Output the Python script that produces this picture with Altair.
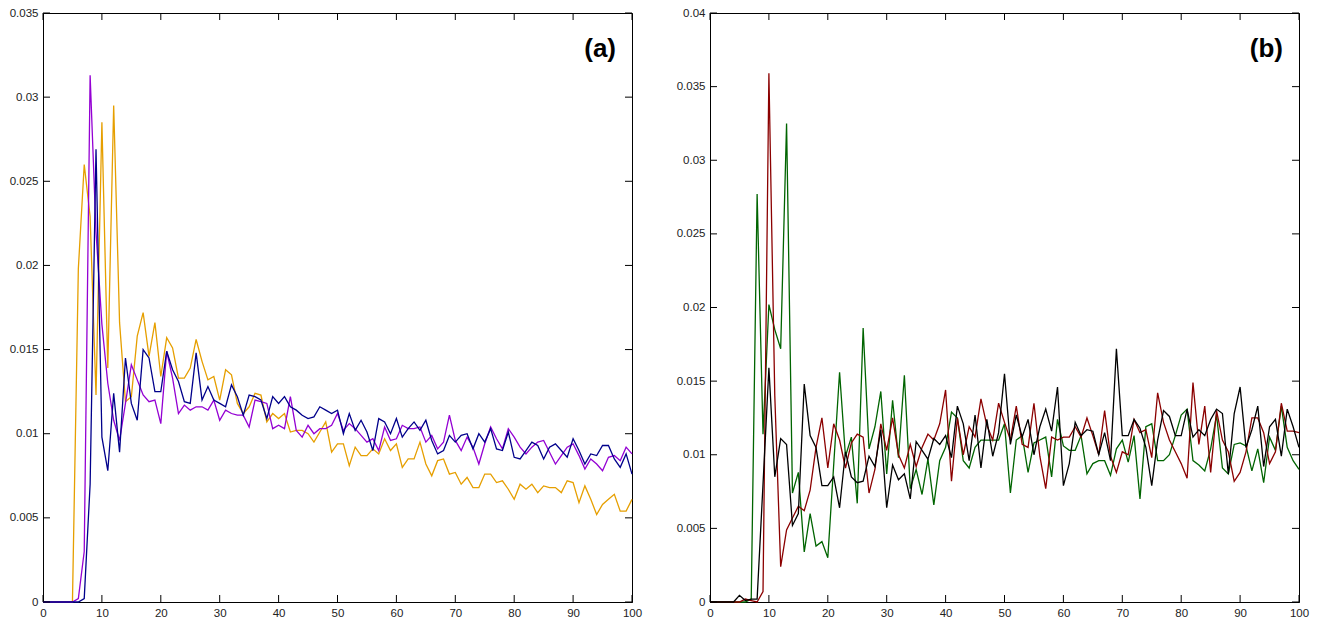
import altair as alt
import pandas as pd

# ---------------- data ----------------
x_vals = list(range(0, 101))

# panel (a)
a_orange = [0, 0, 0, 0, 0, 0, 0.0198, 0.0260, 0.0229, 0.0123,
            0.0285, 0.0139, 0.0295, 0.0166, 0.0119, 0.0122, 0.0158, 0.0172, 0.0146, 0.0166,
            0.0134, 0.0157, 0.0151, 0.0133, 0.0133, 0.0139, 0.0156, 0.0143, 0.0132, 0.0134,
            0.0120, 0.0138, 0.0135, 0.0118, 0.0112, 0.0116, 0.0124, 0.0123, 0.0107, 0.0112,
            0.0109, 0.0112, 0.0101, 0.0102, 0.0102, 0.0100, 0.0095, 0.0101, 0.0107, 0.0089,
            0.0094, 0.0094, 0.0081, 0.0092, 0.0087, 0.0087, 0.0091, 0.0088, 0.0097, 0.0090,
            0.0094, 0.0080, 0.0085, 0.0085, 0.0095, 0.0082, 0.0075, 0.0084, 0.0085, 0.0076,
            0.0077, 0.0070, 0.0074, 0.0068, 0.0068, 0.0076, 0.0076, 0.0071, 0.0072, 0.0067,
            0.0061, 0.0070, 0.0067, 0.0070, 0.0065, 0.0069, 0.0068, 0.0068, 0.0065, 0.0072,
            0.0071, 0.0059, 0.0069, 0.0061, 0.0052, 0.0058, 0.0061, 0.0064, 0.0054, 0.0054,
            0.0061]
a_purple = [0, 0, 0, 0, 0, 0, 0.0002, 0.0030, 0.0313, 0.0220,
            0.0165, 0.0130, 0.0108, 0.0096, 0.0118, 0.0141, 0.0132, 0.0123, 0.0119, 0.0120,
            0.0106, 0.0149, 0.0133, 0.0112, 0.0117, 0.0114, 0.0116, 0.0116, 0.0114, 0.0120,
            0.0108, 0.0114, 0.0112, 0.0111, 0.0111, 0.0104, 0.0120, 0.0119, 0.0118, 0.0103,
            0.0105, 0.0103, 0.0122, 0.0102, 0.0098, 0.0105, 0.0100, 0.0103, 0.0103, 0.0105,
            0.0112, 0.0102, 0.0106, 0.0103, 0.0099, 0.0095, 0.0097, 0.0090, 0.0104, 0.0096,
            0.0097, 0.0105, 0.0103, 0.0103, 0.0104, 0.0095, 0.0099, 0.0091, 0.0095, 0.0111,
            0.0096, 0.0090, 0.0098, 0.0092, 0.0082, 0.0094, 0.0104, 0.0097, 0.0091, 0.0103,
            0.0098, 0.0092, 0.0088, 0.0092, 0.0095, 0.0096, 0.0089, 0.0082, 0.0087, 0.0092,
            0.0094, 0.0087, 0.0079, 0.0085, 0.0082, 0.0078, 0.0086, 0.0087, 0.0084, 0.0092,
            0.0088]
a_blue = [0, 0, 0, 0, 0, 0, 0, 0.0002, 0.0070, 0.0269,
          0.0098, 0.0078, 0.0124, 0.0089, 0.0145, 0.0118, 0.0108, 0.0150, 0.0145, 0.0125,
          0.0125, 0.0149, 0.0138, 0.0131, 0.0119, 0.0118, 0.0148, 0.0120, 0.0128, 0.0120,
          0.0118, 0.0116, 0.0129, 0.0122, 0.0111, 0.0123, 0.0122, 0.0120, 0.0109, 0.0122,
          0.0118, 0.0122, 0.0116, 0.0114, 0.0111, 0.0109, 0.0110, 0.0116, 0.0114, 0.0112,
          0.0114, 0.0100, 0.0112, 0.0102, 0.0108, 0.0101, 0.0090, 0.0109, 0.0107, 0.0100,
          0.0109, 0.0098, 0.0103, 0.0107, 0.0102, 0.0108, 0.0096, 0.0088, 0.0090, 0.0099,
          0.0095, 0.0099, 0.0100, 0.0091, 0.0100, 0.0095, 0.0103, 0.0091, 0.0090, 0.0101,
          0.0086, 0.0085, 0.0090, 0.0095, 0.0093, 0.0085, 0.0092, 0.0094, 0.0090, 0.0086,
          0.0097, 0.0090, 0.0082, 0.0088, 0.0087, 0.0093, 0.0093, 0.0085, 0.0080, 0.0088,
          0.0076]

# panel (b)
b_black = [0, 0, 0, 0, 0, 0.00045, 0.0001, 0.0002, 0.0002, 0.0080,
           0.0159, 0.0085, 0.0111, 0.0107, 0.0052, 0.0060, 0.0148, 0.0113, 0.0105, 0.0079,
           0.0079, 0.0085, 0.0064, 0.0102, 0.0085, 0.0081, 0.0082, 0.0099, 0.0092, 0.0117,
           0.0064, 0.0093, 0.0083, 0.0087, 0.0070, 0.0109, 0.0103, 0.0097, 0.0111, 0.0107,
           0.0113, 0.0098, 0.0133, 0.0121, 0.0096, 0.0127, 0.0091, 0.0124, 0.0099, 0.0115,
           0.0155, 0.0107, 0.0127, 0.0112, 0.0124, 0.0100, 0.0119, 0.0131, 0.0116, 0.0146,
           0.0079, 0.0094, 0.0122, 0.0113, 0.0117, 0.0116, 0.0100, 0.0115, 0.0096, 0.0172,
           0.0113, 0.0113, 0.0124, 0.0118, 0.0105, 0.0079, 0.0110, 0.0130, 0.0126, 0.0113,
           0.0113, 0.0131, 0.0112, 0.0117, 0.0113, 0.0124, 0.0131, 0.0128, 0.0087, 0.0128,
           0.0146, 0.0105, 0.0117, 0.0133, 0.0092, 0.0119, 0.0124, 0.0099, 0.0131, 0.0119,
           0.0105]
b_red = [0, 0, 0, 0, 0, 0, 0.0002, 0.0001, 0, 0.0007,
         0.0359, 0.0140, 0.0024, 0.0049, 0.0057, 0.0065, 0.0062, 0.0076, 0.0105, 0.0125,
         0.0091, 0.0121, 0.0110, 0.0091, 0.0108, 0.0114, 0.0112, 0.0074, 0.0090, 0.0121,
         0.0103, 0.0125, 0.0100, 0.0091, 0.0107, 0.0092, 0.0105, 0.0114, 0.0110, 0.0121,
         0.0144, 0.0082, 0.0125, 0.0100, 0.0119, 0.0112, 0.0138, 0.0120, 0.0110, 0.0135,
         0.0122, 0.0110, 0.0133, 0.0107, 0.0105, 0.0135, 0.0099, 0.0077, 0.0112, 0.0110,
         0.0112, 0.0112, 0.0119, 0.0112, 0.0125, 0.0113, 0.0100, 0.0130, 0.0099, 0.0088,
         0.0102, 0.0100, 0.0124, 0.0115, 0.0117, 0.0098, 0.0142, 0.0122, 0.0110, 0.0102,
         0.0094, 0.0084, 0.0149, 0.0107, 0.0133, 0.0088, 0.0130, 0.0110, 0.0102, 0.0082,
         0.0088, 0.0102, 0.0125, 0.0125, 0.0115, 0.0094, 0.0102, 0.0135, 0.0116, 0.0116,
         0.0115]
b_green = [0, 0, 0, 0, 0, 0, 0, 0.0002, 0.0277, 0.0114,
           0.0202, 0.0185, 0.0172, 0.0325, 0.0074, 0.0088, 0.0034, 0.0060, 0.0038, 0.0041,
           0.0030, 0.0093, 0.0156, 0.0099, 0.0112, 0.0067, 0.0186, 0.0104, 0.0119, 0.0143,
           0.0087, 0.0137, 0.0098, 0.0154, 0.0077, 0.0090, 0.0073, 0.0097, 0.0066, 0.0096,
           0.0105, 0.0129, 0.0125, 0.0096, 0.0091, 0.0105, 0.0110, 0.0110, 0.0110, 0.0110,
           0.0121, 0.0074, 0.0110, 0.0113, 0.0088, 0.0108, 0.0110, 0.0112, 0.0085, 0.0124,
           0.0106, 0.0103, 0.0103, 0.0113, 0.0087, 0.0094, 0.0096, 0.0096, 0.0086, 0.0104,
           0.0110, 0.0095, 0.0113, 0.0070, 0.0119, 0.0121, 0.0096, 0.0096, 0.0100, 0.0113,
           0.0127, 0.0131, 0.0096, 0.0093, 0.0089, 0.0104, 0.0127, 0.0091, 0.0087, 0.0107,
           0.0108, 0.0106, 0.0089, 0.0104, 0.0081, 0.0112, 0.0103, 0.0133, 0.0105, 0.0096,
           0.0090]

x_ticks = [0, 10, 20, 30, 40, 50, 60, 70, 80, 90, 100]
a_y_ticks = [0, 0.005, 0.01, 0.015, 0.02, 0.025, 0.03, 0.035]
b_y_ticks = [0, 0.005, 0.01, 0.015, 0.02, 0.025, 0.03, 0.035, 0.04]
panel_labels = ["(a)", "(b)"]

a_series = ["orange", "purple", "blue"]
a_colors = ["#E69F00", "#9400D3", "#00008B"]
b_series = ["green", "red", "black"]
b_colors = ["#006400", "#8B0000", "#000000"]

W, H = 589, 589
TICK = 7
FONT = "Liberation Sans"


def long_df(series_names, series_values):
    rows = []
    for name, vals in zip(series_names, series_values):
        for xv, yv in zip(x_vals, vals):
            rows.append({"x": xv, "v": yv, "s": name})
    return pd.DataFrame(rows)


def panel(df, names, colors, y_ticks, y_max, label):
    xs = alt.Scale(domain=[0, 100], nice=False, zero=False)
    ys = alt.Scale(domain=[0, y_max], nice=False, zero=False)
    x_axis = alt.Axis(values=x_ticks, ticks=False, grid=False, labelFlush=False,
                      labelOverlap=False, labelPadding=5, title=None,
                      domainColor="black", labelColor="#222")
    y_axis = alt.Axis(values=y_ticks, ticks=False, grid=False, format="~g",
                      labelOverlap=False, labelPadding=5, title=None,
                      domainColor="black", labelColor="#222")

    lines = alt.Chart(df).mark_line(strokeWidth=1.3).encode(
        x=alt.X("x:Q", scale=xs, axis=x_axis),
        y=alt.Y("v:Q", scale=ys, axis=y_axis),
        color=alt.Color("s:N", scale=alt.Scale(domain=names, range=colors), legend=None),
        detail="s:N",
    )

    yt = pd.DataFrame({"t": y_ticks})
    xt = pd.DataFrame({"t": x_ticks})
    tick_style = dict(color="black", strokeWidth=1)
    yl = alt.Chart(yt).mark_rule(**tick_style).encode(
        y=alt.Y("t:Q", scale=ys), x=alt.value(0), x2=alt.value(TICK))
    yr = alt.Chart(yt).mark_rule(**tick_style).encode(
        y=alt.Y("t:Q", scale=ys), x=alt.value(W - TICK), x2=alt.value(W))
    xb = alt.Chart(xt).mark_rule(**tick_style).encode(
        x=alt.X("t:Q", scale=xs), y=alt.value(H), y2=alt.value(H - TICK))
    xtp = alt.Chart(xt).mark_rule(**tick_style).encode(
        x=alt.X("t:Q", scale=xs), y=alt.value(0), y2=alt.value(TICK))

    txt = alt.Chart(pd.DataFrame({"lab": [label]})).mark_text(
        align="right", baseline="middle", fontSize=26, fontWeight="bold",
        font=FONT, color="black"
    ).encode(text="lab:N", x=alt.value(W - 16), y=alt.value(36))

    return alt.layer(lines, yl, yr, xb, xtp, txt).properties(width=W, height=H)


pa = panel(long_df(a_series, [a_orange, a_purple, a_blue]), a_series, a_colors,
           a_y_ticks, 0.035, panel_labels[0])
pb = panel(long_df(b_series, [b_green, b_red, b_black]), b_series, b_colors,
           b_y_ticks, 0.04, panel_labels[1])

chart = alt.hconcat(pa, pb, spacing=32).resolve_scale(
    color="independent", x="independent", y="independent"
).properties(padding={"left": 0, "top": -2, "right": 0, "bottom": 0}).configure_view(
    stroke="black", strokeWidth=1
).configure_axis(
    labelFont=FONT, labelFontSize=11.5, domainWidth=1
)

chart.save("out.html", embed_options={"renderer": "svg", "actions": False})
